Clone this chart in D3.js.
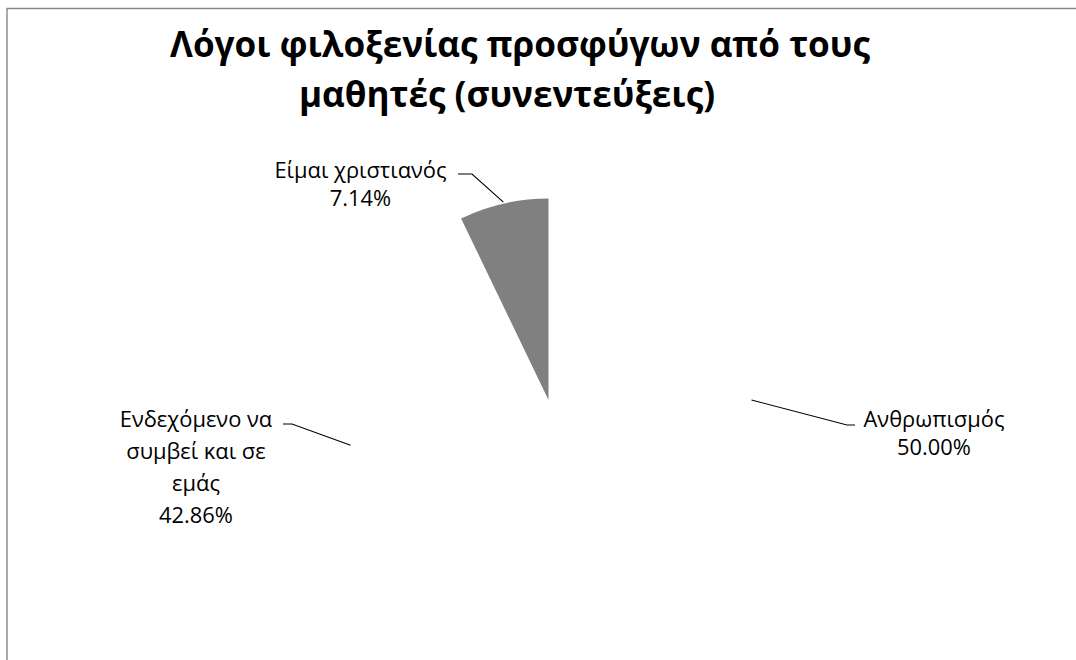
<!DOCTYPE html>
<html>
<head>
<meta charset="utf-8">
<script src="https://cdn.jsdelivr.net/npm/d3@7"></script>
<style>
  html, body { margin: 0; padding: 0; background: #fff; overflow: hidden; }
  svg { display: block; }
</style>
</head>
<body>
<svg id="chart" width="1076" height="660"></svg>
<script>
// ---- data ----
const titleLines = ["Λόγοι φιλοξενίας προσφύγων από τους", "μαθητές (συνεντεύξεις)"];
const categories = ["Ανθρωπισμός", "Ενδεχόμενο να συμβεί και σε εμάς", "Είμαι χριστιανός"];
const labelLines = [["Ανθρωπισμός"], ["Ενδεχόμενο να", "συμβεί και σε", "εμάς"], ["Είμαι χριστιανός"]];
const values = [50.00, 42.86, 7.14];
const percentLabels = ["50.00%", "42.86%", "7.14%"];

// ---- layout / style ----
const W = 1076, H = 660;
const cx = 548.5, cy = 400, R = 201.5;
const fills = ["#ffffff", "#ffffff", "#808080"];
const font = "'Open Sans', 'Noto Sans', sans-serif";
// label layout: text centre x, first baseline y, line step, elbow and end of leader
const labelLayout = [
  { x: 934, y: 427, step: 28, elbow: [847, 425], end: [855, 425] },
  { x: 196, y: 427, step: 32, elbow: [292, 424], end: [283, 424] },
  { x: 360.5, y: 178, step: 28, elbow: [472, 174], end: [458, 174] }
];

const svg = d3.select("#chart");

// frame (only left and top edges fall inside the view)
svg.append("path")
  .attr("d", "M7,700 L7,8.5 L1100,8.5")
  .attr("fill", "none")
  .attr("stroke", "#878787").attr("stroke-width", 1.4);

// title
const titleG = svg.append("g");
const titleCenters = [520, 507];
const titleBaselines = [57, 107];
const tmp = titleG.append("text").attr("font-family", font).attr("font-weight", "bold")
  .attr("font-size", 40).text(titleLines[0]);
const w40 = tmp.node().getComputedTextLength();
tmp.remove();
const titleSize = 40 * 700 / w40;
titleLines.forEach((t, i) => {
  titleG.append("text")
    .attr("x", titleCenters[i]).attr("y", titleBaselines[i])
    .attr("text-anchor", "middle")
    .attr("font-family", font).attr("font-weight", "bold")
    .attr("font-size", titleSize)
    .attr("fill", "#000")
    .text(t);
});

// pie
const pie = d3.pie().sort(null).value(d => d)(values);
const arc = d3.arc().innerRadius(0).outerRadius(R);
const g = svg.append("g").attr("transform", `translate(${cx},${cy})`);
g.selectAll("path").data(pie).join("path")
  .attr("d", arc)
  .attr("fill", (d, i) => fills[i])
  .attr("stroke", "none");

// label font size
const tmp2 = svg.append("text").attr("font-family", font).attr("font-size", 24).text(labelLines[0][0]);
const w24 = tmp2.node().getComputedTextLength();
tmp2.remove();
const labelSize = 24 * 141 / w24;

// leader lines and labels
pie.forEach((d, i) => {
  const mid = (d.startAngle + d.endAngle) / 2;
  const r0 = R + 1.5;
  const p0 = [cx + r0 * Math.sin(mid), cy - r0 * Math.cos(mid)];
  const L = labelLayout[i];
  svg.append("path")
    .attr("d", d3.line()([p0, L.elbow, L.end]))
    .attr("fill", "none")
    .attr("stroke", "#000")
    .attr("stroke-width", 1.1);
  const lines = labelLines[i].concat([percentLabels[i]]);
  lines.forEach((t, j) => {
    svg.append("text")
      .attr("x", L.x).attr("y", L.y + j * L.step)
      .attr("text-anchor", "middle")
      .attr("font-family", font)
      .attr("font-size", labelSize)
      .attr("fill", "#000")
      .text(t);
  });
});
</script>
</body>
</html>
